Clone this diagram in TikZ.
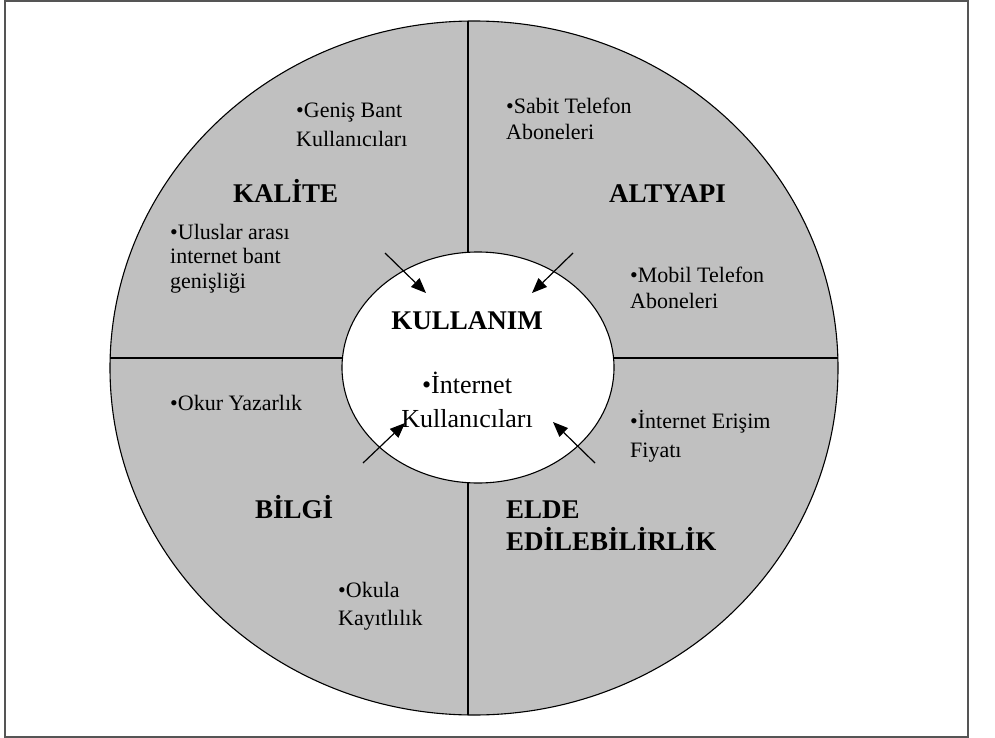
\documentclass[tikz,border=0pt]{standalone}
\usepackage{fontspec}
\setmainfont{Liberation Serif}
\usetikzlibrary{arrows.meta}
\definecolor{ringgray}{RGB}{192,192,192}
\definecolor{framegray}{RGB}{85,85,85}
\begin{document}
% Text nodes are anchored at the baseline of their last line.
\begin{tikzpicture}[x=1pt,y=-1pt,
  item/.style={anchor=base west, align=left, inner sep=0pt, font=\fontsize{22}{27}\selectfont},
  heading/.style={anchor=base west, align=left, inner sep=0pt, font=\fontsize{27}{32}\selectfont\bfseries},
  core/.style={anchor=base, align=center, inner sep=0pt},
  feed/.style={-{Triangle[length=15pt,width=12pt]}, line width=1.2pt},
  rim/.style={line width=1.1pt}]
\useasboundingbox (0,0) rectangle (995,738);
% frame
\draw[framegray, line width=1.3pt] (5,1) rectangle (968,737);
% outer ring with quadrant dividers
\fill[ringgray] (474,368) ellipse [x radius=364pt, y radius=347pt];
\begin{scope}
  \clip (474,368) ellipse [x radius=364pt, y radius=347pt];
  \draw[rim] (468,0) -- (468,738);
  \draw[rim] (100,358) -- (850,358);
\end{scope}
\draw[rim] (474,368) ellipse [x radius=364pt, y radius=347pt];
% inner core
\draw[rim, fill=white] (478,367.5) ellipse [x radius=136pt, y radius=115.5pt];
\coordinate (hub) at (478,367.5);

% quadrant texts
\node[item, font=\fontsize{22}{29}\selectfont] (genis) at (296,147) {•Geniş Bant\\Kullanıcıları};
\node[heading] (kalite) at (233,203) {KALİTE};
\node[item, font=\fontsize{22}{24.5}\selectfont] (ulus) at (170,288) {•Uluslar arası\\internet bant\\genişliği};

\node[item, font=\fontsize{22}{26}\selectfont] (sabit) at (506,140) {•Sabit Telefon\\Aboneleri};
\node[heading] (altyapi) at (609,203) {ALTYAPI};
\node[item, font=\fontsize{22}{26}\selectfont] (mobil) at (630,308) {•Mobil Telefon\\Aboneleri};

\node[item] (okur) at (170,410) {•Okur Yazarlık};
\node[heading] (bilgi) at (255,518) {BİLGİ};
\node[item, font=\fontsize{22}{28}\selectfont] (okula) at (338,625) {•Okula\\Kayıtlılık};

\node[item, font=\fontsize{22}{29}\selectfont] (erisim) at (630,457) {•İnternet Erişim\\Fiyatı};
\node[heading] (elde) at (506,550) {ELDE\\EDİLEBİLİRLİK};

% core texts
\node[core, font=\fontsize{27}{32}\selectfont\bfseries] (kullanim) at (467,329) {KULLANIM};
\node[core, font=\fontsize{26}{34}\selectfont] (inet) at (467,427) {•İnternet\\Kullanıcıları};

% arrows into the core
\coordinate (tlA) at (385,253); \coordinate (tlB) at (426,293);
\coordinate (trA) at (573,253); \coordinate (trB) at (532,293);
\coordinate (blA) at (363,463); \coordinate (blB) at (405,423);
\coordinate (brA) at (595,463); \coordinate (brB) at (553,422);
\draw[feed] (tlA) -- (tlB);
\draw[feed] (trA) -- (trB);
\draw[feed] (blA) -- (blB);
\draw[feed] (brA) -- (brB);
\end{tikzpicture}
\end{document}
